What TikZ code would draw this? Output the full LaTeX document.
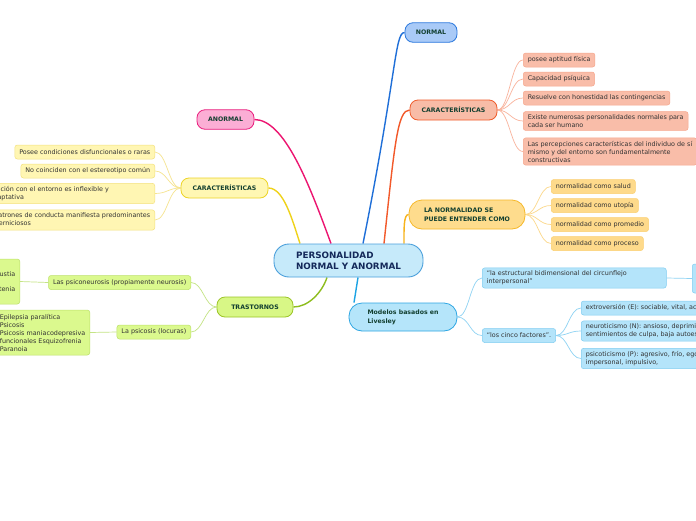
\documentclass[tikz,border=0pt]{standalone}
\usepackage{fontspec}
\setmainfont{DejaVu Sans}
\usetikzlibrary{positioning,backgrounds}
\definecolor{topicfill}{HTML}{C6EAFA}
\definecolor{topicline}{HTML}{4A9FDB}
\definecolor{topictext}{HTML}{14295A}
\definecolor{headtext}{HTML}{123F30}
\definecolor{leaftext}{HTML}{333333}
\definecolor{normalfill}{HTML}{A9CAF7}
\definecolor{normalline}{HTML}{2B78DE}
\definecolor{normalwire}{HTML}{1F6FD8}
\definecolor{orangefill}{HTML}{F8BCA7}
\definecolor{orangeline}{HTML}{F05C2B}
\definecolor{orangewire}{HTML}{F2592A}
\definecolor{orangeleaf}{HTML}{F9BDA9}
\definecolor{orangeleafline}{HTML}{F6A78E}
\definecolor{orangethin}{HTML}{F9B39C}
\definecolor{goldfill}{HTML}{FEDC8D}
\definecolor{goldline}{HTML}{F6B829}
\definecolor{goldwire}{HTML}{F7B31B}
\definecolor{goldleaf}{HTML}{FEDA8B}
\definecolor{goldleafline}{HTML}{FBCF70}
\definecolor{goldthin}{HTML}{FCD88A}
\definecolor{bluefill}{HTML}{B5E5FA}
\definecolor{blueline}{HTML}{2EA6E3}
\definecolor{bluewire}{HTML}{1CA3E4}
\definecolor{blueleaf}{HTML}{B4E4FA}
\definecolor{blueleafline}{HTML}{80CDF1}
\definecolor{bluethin}{HTML}{8FD3F3}
\definecolor{pinkfill}{HTML}{FBAED5}
\definecolor{pinkline}{HTML}{E91E7D}
\definecolor{pinkwire}{HTML}{EC1470}
\definecolor{yelfill}{HTML}{FFF7B3}
\definecolor{yelline}{HTML}{EDD427}
\definecolor{yelwire}{HTML}{EFD21A}
\definecolor{yelleaf}{HTML}{FFF6B3}
\definecolor{yelleafline}{HTML}{F3E17E}
\definecolor{yelthin}{HTML}{F6E48F}
\definecolor{greenfill}{HTML}{D8F786}
\definecolor{greenline}{HTML}{9CC526}
\definecolor{greenwire}{HTML}{8EBD1E}
\definecolor{greenleaf}{HTML}{DBF98E}
\definecolor{greenleafline}{HTML}{BDE16A}
\definecolor{greenthin}{HTML}{C4E485}
\tikzset{
  topicnode/.style={draw=topicline,fill=topicfill,line width=0.9pt,rounded corners=15pt,minimum width=149pt,minimum height=33pt,align=left,font=\fontsize{8.8}{11}\selectfont\bfseries,text=topictext,inner sep=0pt},
  branchnode/.style={draw,line width=0.8pt,rounded corners=8pt,minimum height=19.5pt,align=left,font=\fontsize{6.2}{8.8}\selectfont\bfseries,text=headtext,inner sep=0pt},
  leafnode/.style={draw,line width=0.5pt,rounded corners=2.5pt,minimum height=14pt,align=left,font=\fontsize{6.4}{8}\selectfont,text=leaftext,inner xsep=4.5pt,inner ysep=3pt},
  branchline/.style={line width=1.4pt},
  leafline/.style={line width=0.7pt}
}

\begin{document}
\begin{tikzpicture}[x=1pt,y=-1pt]
  \useasboundingbox (0,0) rectangle (696,520);
  \clip (0,0) rectangle (696,520);

  % centre
  \node[topicnode] (topic) at (348.5,260.5) {PERSONALIDAD\\NORMAL Y ANORMAL};

  % right branches
  \node[branchnode,draw=normalline,fill=normalfill,minimum width=52pt] (normal) at (431,32.5) {NORMAL};
  \node[branchnode,draw=orangeline,fill=orangefill,minimum width=87pt,minimum height=20pt] (caractR) at (453.5,110) {CARACTERÍSTICAS};
  \node[branchnode,draw=goldline,fill=goldfill,minimum width=116pt,minimum height=29pt,rounded corners=13pt] (normalidad) at (467,214.5) {LA NORMALIDAD SE\\PUEDE ENTENDER COMO};
  \node[branchnode,draw=blueline,fill=bluefill,minimum width=108pt,minimum height=28pt,rounded corners=13pt] (modelos) at (403,317) {Modelos basados en\\Livesley};

  % left branches
  \node[branchnode,draw=pinkline,fill=pinkfill,minimum width=57pt] (anormal) at (225.5,119.5) {ANORMAL};
  \node[branchnode,draw=yelline,fill=yelfill,minimum width=87pt,minimum height=20pt] (caractL) at (224.5,188) {CARACTERÍSTICAS};
  \node[branchnode,draw=greenline,fill=greenfill,minimum width=76pt,minimum height=20pt] (trastornos) at (255,307) {TRASTORNOS};

  % normal: caracteristicas
  \node[leafnode,draw=orangeleafline,fill=orangeleaf,anchor=west] (fisica) at (523,60) {posee aptitud física};
  \node[leafnode,draw=orangeleafline,fill=orangeleaf,anchor=west] (psiquica) at (523,79) {Capacidad psíquica};
  \node[leafnode,draw=orangeleafline,fill=orangeleaf,anchor=west] (honestidad) at (523,98) {Resuelve con honestidad las contingencias};
  \node[leafnode,draw=orangeleafline,fill=orangeleaf,anchor=west] (numerosas) at (523,121) {Existe numerosas personalidades normales para\\cada ser humano};
  \node[leafnode,draw=orangeleafline,fill=orangeleaf,anchor=west] (percepciones) at (523,151.5) {Las percepciones características del individuo de sí\\mismo y del entorno son fundamentalmente\\constructivas};

  % normalidad
  \node[leafnode,draw=goldleafline,fill=goldleaf,anchor=west] (salud) at (551,186.5) {normalidad como salud};
  \node[leafnode,draw=goldleafline,fill=goldleaf,anchor=west] (utopia) at (551,205.5) {normalidad como utopía};
  \node[leafnode,draw=goldleafline,fill=goldleaf,anchor=west] (promedio) at (551,224.5) {normalidad como promedio};
  \node[leafnode,draw=goldleafline,fill=goldleaf,anchor=west] (proceso) at (551,243.5) {normalidad como proceso};

  % modelos
  \node[leafnode,draw=blueleafline,fill=blueleaf,anchor=west,text width=175pt] (circunflejo) at (482,278) {“la estructural bidimensional del circunflejo\\interpersonal”};
  \node[leafnode,draw=blueleafline,fill=blueleaf,anchor=west,minimum width=40pt,minimum height=29pt] (circright) at (692,278.5) {};
  \node[leafnode,draw=blueleafline,fill=blueleaf,anchor=west] (cinco) at (482,335.5) {“los cinco factores”.};
  \node[leafnode,draw=blueleafline,fill=blueleaf,anchor=west] (extro) at (581,308) {extroversión (E): sociable, vital, activo, dogmático};
  \node[leafnode,draw=blueleafline,fill=blueleaf,anchor=west] (neuro) at (581,331) {neuroticismo (N): ansioso, deprimido,\\sentimientos de culpa, baja autoestima,};
  \node[leafnode,draw=blueleafline,fill=blueleaf,anchor=west] (psicot) at (581,358.5) {psicoticismo (P): agresivo, frío, egocéntrico,\\impersonal, impulsivo,};

  % anormal: caracteristicas
  \node[leafnode,draw=yelleafline,fill=yelleaf,anchor=east] (disfuncion) at (155,152) {Posee condiciones disfuncionales o raras};
  \node[leafnode,draw=yelleafline,fill=yelleaf,anchor=east] (estereotipo) at (155,171) {No coinciden con el estereotipo común};
  \node[leafnode,draw=yelleafline,fill=yelleaf,anchor=east,text width=172pt] (entorno) at (155,193.5) {Su relación con el entorno es inflexible y\\desadaptativa};
  \node[leafnode,draw=yelleafline,fill=yelleaf,anchor=east] (conducta) at (155,220) {Patrones de conducta manifiesta predominantes\\perniciosos};

  % trastornos
  \node[leafnode,draw=greenleafline,fill=greenleaf,anchor=east] (psiconeurosis) at (191,282.5) {Las psiconeurosis (propiamente neurosis)};
  \node[leafnode,draw=greenleafline,fill=greenleaf,anchor=east] (psicosis) at (191,332) {La psicosis (locuras)};
  \node[leafnode,draw=greenleafline,fill=greenleaf,anchor=east,align=right,minimum height=45pt] (neurolist) at (20,281.5) {Angustia\\[7pt]Neurastenia};
  \node[leafnode,draw=greenleafline,fill=greenleaf,anchor=east,minimum height=45pt] (locuralist) at (90,332.5) {Epilepsia paralítica\\Psicosis\\Psicosis maniacodepresiva\\funcionales Esquizofrenia\\Paranoia};

  \begin{scope}[on background layer]
    \fill[white] (0,0) rectangle (696,520);
    % main branches
    \draw[branchline,normalwire] ([xshift=14.5pt]topic.north) .. controls +(34,-170) and +(-10,0) .. (normal.west);
    \draw[branchline,orangewire] ([xshift=35.5pt]topic.north) .. controls +(10.6,-100) and +(-12,0) .. (caractR.west);
    \draw[branchline,goldwire] ([xshift=55.5pt]topic.north) .. controls +(0,-15) and +(-5,0) .. (normalidad.west);
    \draw[branchline,pinkwire] ([xshift=-17.5pt]topic.north) .. controls +(-22,-60) and +(30,0) .. (anormal.east);
    \draw[branchline,yelwire] ([xshift=-48.5pt]topic.north) .. controls +(-8,-25) and +(15,0) .. (caractL.east);
    \draw[branchline,greenwire] ([xshift=-21.5pt]topic.south) .. controls +(-5,15) and +(15,0) .. (trastornos.east);
    \draw[branchline,bluewire] ([xshift=9.5pt]topic.south) -- ([xshift=-49pt]modelos.north);

    % sub branches
    \foreach \n in {fisica,psiquica,honestidad,numerosas,percepciones}
      \draw[leafline,orangethin] (caractR.east) .. controls +(12,0) and +(-12,0) .. (\n.west);
    \foreach \n in {salud,utopia,promedio,proceso}
      \draw[leafline,goldthin] (normalidad.east) .. controls +(12,0) and +(-12,0) .. (\n.west);
    \foreach \n in {circunflejo,cinco}
      \draw[leafline,bluethin] (modelos.east) .. controls +(12,0) and +(-12,0) .. (\n.west);
    \foreach \n in {extro,neuro,psicot}
      \draw[leafline,bluethin] (cinco.east) .. controls +(12,0) and +(-12,0) .. (\n.west);
    \draw[leafline,bluethin] (circunflejo.east) -- (circright.west);
    \foreach \n in {disfuncion,estereotipo,entorno,conducta}
      \draw[leafline,yelthin] (caractL.west) .. controls +(-12,0) and +(12,0) .. (\n.east);
    \foreach \n in {psiconeurosis,psicosis}
      \draw[leafline,greenthin] (trastornos.west) .. controls +(-12,0) and +(12,0) .. (\n.east);
    \draw[leafline,greenthin] (psiconeurosis.west) -- (neurolist.east);
    \draw[leafline,greenthin] (psicosis.west) -- (locuralist.east);
  \end{scope}
\end{tikzpicture}
\end{document}
